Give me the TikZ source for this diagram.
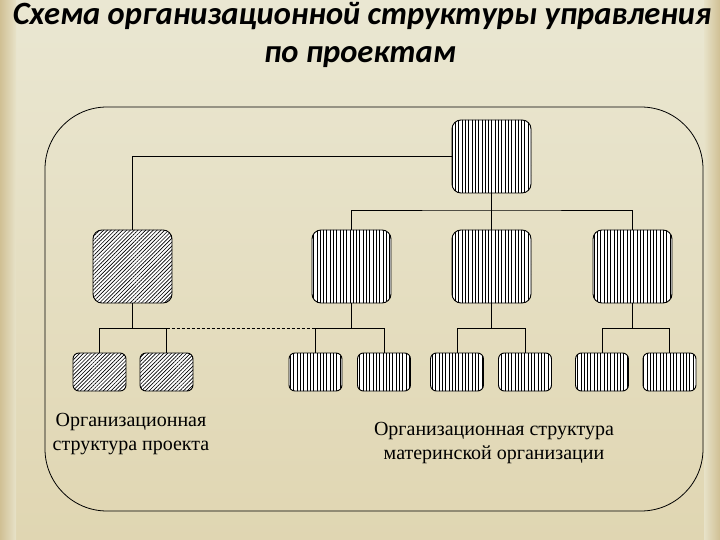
\documentclass[tikz,border=0pt]{standalone}
\usepackage{fontspec}
\setmainfont{Liberation Serif}
\newfontfamily\titlefont{Carlito}
\usetikzlibrary{patterns.meta}
\definecolor{bgdark}{RGB}{208,192,148}
\definecolor{bglight}{RGB}{234,231,210}
\definecolor{bgbottom}{RGB}{224,214,178}
\tikzset{
  bigbox/.style={draw, line width=0.9pt, fill=white, rounded corners=9pt, minimum width=79pt, minimum height=73pt, inner sep=0pt},
  smallbox/.style={draw, line width=0.9pt, fill=white, rounded corners=6pt, minimum width=53pt, minimum height=38pt, inner sep=0pt},
  vhatch/.style={postaction={pattern={Lines[angle=90,distance=3.3pt,line width=0.6pt]}}},
  dhatch/.style={postaction={pattern={Lines[angle=45,distance=2.7pt,line width=0.65pt]}}},
  conn/.style={line width=0.7pt},
  label/.style={align=center, font=\fontsize{20}{24.5}\selectfont},
  titletext/.style={font=\titlefont\bfseries\itshape\fontsize{32.5}{38}\selectfont}
}
\begin{document}
\begin{tikzpicture}[x=1pt,y=-1pt]
\useasboundingbox (0,0) rectangle (720,540);
% background
\fill[bgdark] (0,0) rectangle (720,540);
\shade[top color=bglight, bottom color=bgbottom] (16,0) rectangle (704,540);
\shade[left color=bgdark, right color=bglight!70!bgbottom] (0,0) rectangle (16,540);
\shade[right color=bgdark, left color=bglight!70!bgbottom] (704,0) rectangle (720,540);
% title
\node[titletext, anchor=base] (t1) at (362,25) {Схема организационной структуры управления};
\node[titletext, anchor=base] (t2) at (360,63) {по проектам};
% frame
\draw[line width=0.8pt, rounded corners=62pt] (45,107) rectangle (703,511);
% boxes
\node[bigbox, vhatch] (top) at (491.5,156.5) {};
\node[bigbox, dhatch] (L) at (132.5,266.5) {};
\node[bigbox, vhatch] (m1) at (351.5,266.5) {};
\node[bigbox, vhatch] (m2) at (491.5,266.5) {};
\node[bigbox, vhatch] (m3) at (632.5,266.5) {};
\node[smallbox, dhatch] (s1) at (99.5,372) {};
\node[smallbox, dhatch] (s2) at (166.5,372) {};
\node[smallbox, vhatch] (s3) at (315.5,372) {};
\node[smallbox, vhatch] (s4) at (384,372) {};
\node[smallbox, vhatch] (s5) at (457,372) {};
\node[smallbox, vhatch] (s6) at (525,372) {};
\node[smallbox, vhatch] (s7) at (602,372) {};
\node[smallbox, vhatch] (s8) at (669.5,372) {};
% connectors
\draw[conn] (top.west) -| (L.north);
\draw[conn] (top.south) -- (m2.north);
\draw[conn] (m1.north) |- (m2.north |- 0,210) -| (m3.north);
\draw[conn] (L.south) -- (L.south |- 0,328);
\draw[conn] (s1.north) |- (s2.north |- 0,328) -- (s2.north);
\draw[conn, dash pattern=on 3pt off 2pt] (s2.north |- 0,328) -- (s3.north |- 0,328);
\draw[conn] (m1.south) -- (m1.south |- 0,328);
\draw[conn] (s3.north) |- (s4.north |- 0,328) -- (s4.north);
\draw[conn] (m2.south) -- (m2.south |- 0,328);
\draw[conn] (s5.north) |- (s6.north |- 0,328) -- (s6.north);
\draw[conn] (m3.south) -- (m3.south |- 0,328);
\draw[conn] (s7.north) |- (s8.north |- 0,328) -- (s8.north);
% labels
\node[label] (lp) at (131,434) {Организационная\\структура проекта};
\node[label] (lm) at (494,443) {Организационная структура\\материнской организации};
\end{tikzpicture}
\end{document}
